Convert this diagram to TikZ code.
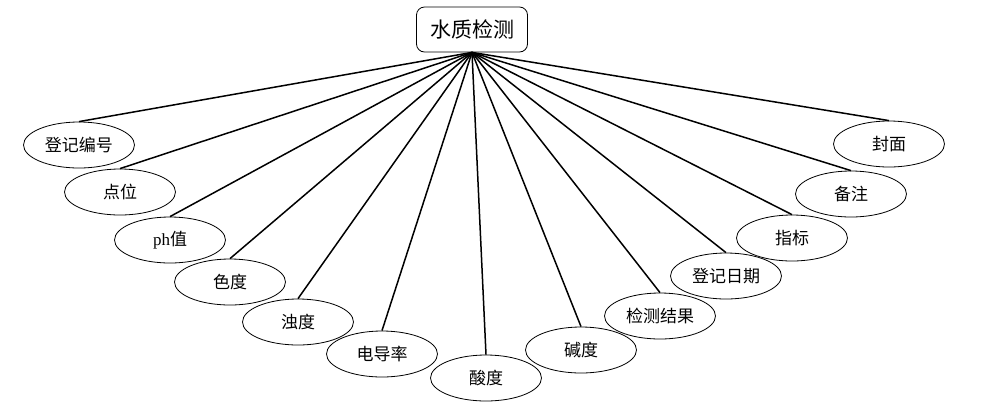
\documentclass[tikz,border=0pt]{standalone}
\usepackage{fontspec}
\setmainfont{Liberation Serif}
\newfontfamily\cjk{Noto Sans CJK SC}
\usetikzlibrary{shapes.geometric}
\begin{document}
\begin{tikzpicture}[x=1pt,y=-1pt,
  attr/.style={ellipse,draw,line width=0.8pt,minimum width=111pt,minimum height=46pt,inner sep=0pt,font=\fontsize{17}{20}\selectfont},
  ent/.style={rectangle,rounded corners=8pt,draw,line width=0.8pt,minimum width=111pt,minimum height=45pt,inner sep=0pt,font=\fontsize{21}{24}\selectfont},
  link/.style={line width=1.5pt}]
\useasboundingbox (0,0) rectangle (1002,408);
\node[ent] (top) at (472,29.5) {\cjk 水质检测};
\node[attr] (a1) at (79,145) {\cjk 登记编号};
\node[attr] (a2) at (120,192) {\cjk 点位};
\node[attr] (a3) at (170,240) {ph{\cjk 值}};
\node[attr] (a4) at (230,282) {\cjk 色度};
\node[attr] (a5) at (298,322) {\cjk 浊度};
\node[attr] (a6) at (382,354) {\cjk 电导率};
\node[attr] (a7) at (486,378) {\cjk 酸度};
\node[attr] (a8) at (581,350) {\cjk 碱度};
\node[attr] (a9) at (660,316) {\cjk 检测结果};
\node[attr] (a10) at (726,276) {\cjk 登记日期};
\node[attr] (a11) at (792,238) {\cjk 指标};
\node[attr] (a12) at (851,194) {\cjk 备注};
\node[attr] (a13) at (889,144) {\cjk 封面};
\foreach \i in {1,...,13} \draw[link] (top.south) -- (a\i.north);
\end{tikzpicture}
\end{document}
